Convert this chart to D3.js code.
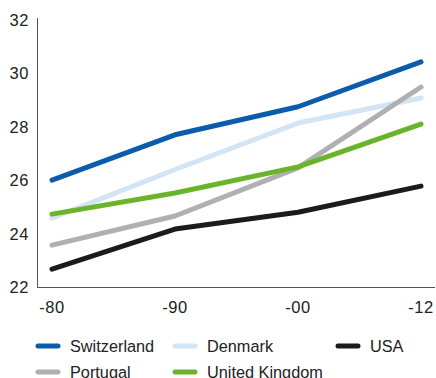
<!DOCTYPE html>
<html><head><meta charset="utf-8">
<script src="https://cdn.jsdelivr.net/npm/d3@7"></script>
<style>body{margin:0;background:#fff}svg{display:block;font-family:"Liberation Sans",Arial,sans-serif}</style>
</head><body>
<svg id="c" width="436" height="378"></svg>
<script>
const categories = ["-80", "-90", "-00", "-12"];
const yTicks = [22, 24, 26, 28, 30, 32];
const seriesNames = ["Switzerland", "Denmark", "USA", "Portugal", "United Kingdom"];
const switzerland = [26.0, 27.7, 28.75, 30.43];
const denmark = [24.58, 26.4, 28.14, 29.08];
const usa = [22.67, 24.17, 24.8, 25.78];
const portugal = [23.57, 24.66, 26.46, 29.49];
const uk = [24.73, 25.52, 26.5, 28.1];
const colors = ["#0b5cab", "#d3e5f5", "#1b1b1f", "#b0b0b2", "#6ab42c"];

const series = [
  {name: seriesNames[1], values: denmark, color: colors[1]},
  {name: seriesNames[3], values: portugal, color: colors[3]},
  {name: seriesNames[4], values: uk, color: colors[4]},
  {name: seriesNames[2], values: usa, color: colors[2]},
  {name: seriesNames[0], values: switzerland, color: colors[0]}
];

const svg = d3.select("#c");
const x = d3.scalePoint().domain(categories).range([52, 421]);
const y = d3.scaleLinear().domain([22, 32]).range([287, 20]);

// axes
svg.append("line").attr("x1", 37.5).attr("x2", 37.5).attr("y1", 18).attr("y2", 287.5).attr("stroke", "#555").attr("stroke-width", 1);
svg.append("line").attr("x1", 37).attr("x2", 435).attr("y1", 287.5).attr("y2", 287.5).attr("stroke", "#555").attr("stroke-width", 1);

svg.selectAll(".yt").data(yTicks).enter().append("text")
  .attr("x", 29).attr("y", d => y(d)).attr("dy", "0.36em")
  .attr("text-anchor", "end").attr("font-size", 16.5).attr("letter-spacing", 0.6)
  .attr("fill", "#222").text(d => d);

svg.selectAll(".xt").data(categories).enter().append("text")
  .attr("x", d => x(d)).attr("y", 313)
  .attr("text-anchor", "middle").attr("font-size", 16.5).attr("letter-spacing", 0.6)
  .attr("fill", "#222").text(d => d);

const line = d3.line().x((d, i) => x(categories[i])).y(d => y(d)).curve(d3.curveLinear);

svg.selectAll(".ln").data(series).enter().append("path")
  .attr("d", d => line(d.values)).attr("fill", "none")
  .attr("stroke", d => d.color).attr("stroke-width", 5)
  .attr("stroke-linecap", "round").attr("stroke-linejoin", "round");

// legend
const legendOrder = [0, 1, 2, 3, 4];
const lx = [36, 173, 336];
const ly = [346, 372];
legendOrder.forEach((si, k) => {
  const col = k % 3, row = Math.floor(k / 3);
  const g = svg.append("g").attr("transform", `translate(${lx[col]},${ly[row]})`);
  g.append("line").attr("x1", 2).attr("x2", 22).attr("y1", 0).attr("y2", 0)
    .attr("stroke", colors[si]).attr("stroke-width", 5).attr("stroke-linecap", "round");
  g.append("text").attr("x", 34).attr("y", 0).attr("dy", "0.36em")
    .attr("font-size", 16.3).attr("fill", "#222").text(seriesNames[si]);
});
</script>
</body></html>
